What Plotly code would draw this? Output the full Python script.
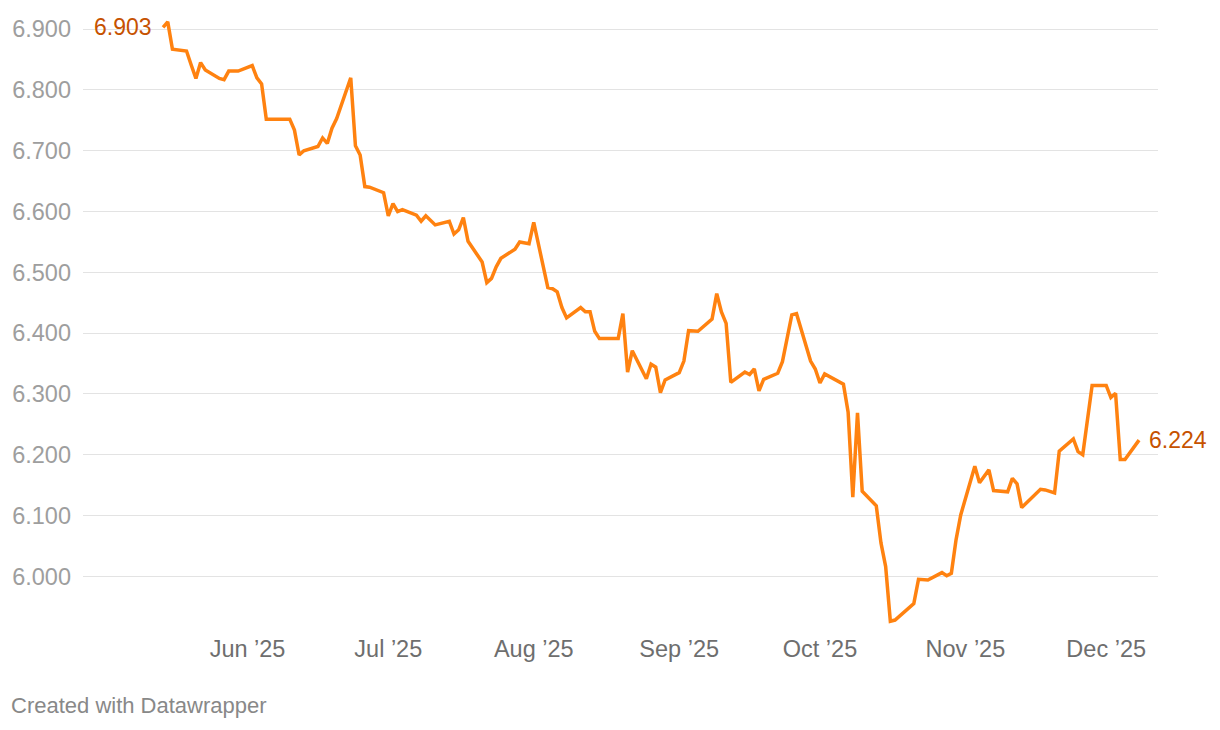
import plotly.graph_objects as go

dates = [
    "2025-05-14", "2025-05-15", "2025-05-16", "2025-05-19", "2025-05-20", "2025-05-21",
    "2025-05-22", "2025-05-23", "2025-05-26", "2025-05-27", "2025-05-28", "2025-05-30",
    "2025-06-02", "2025-06-03", "2025-06-04", "2025-06-05", "2025-06-06", "2025-06-09",
    "2025-06-10", "2025-06-11", "2025-06-12", "2025-06-13", "2025-06-16", "2025-06-17",
    "2025-06-18", "2025-06-19", "2025-06-20", "2025-06-23", "2025-06-24", "2025-06-25",
    "2025-06-26", "2025-06-27", "2025-06-30", "2025-07-01", "2025-07-02", "2025-07-03",
    "2025-07-04", "2025-07-07", "2025-07-08", "2025-07-09", "2025-07-11", "2025-07-14",
    "2025-07-15", "2025-07-16", "2025-07-17", "2025-07-18", "2025-07-21", "2025-07-22",
    "2025-07-23", "2025-07-24", "2025-07-25", "2025-07-28", "2025-07-29", "2025-07-31",
    "2025-08-01", "2025-08-04", "2025-08-05", "2025-08-06", "2025-08-07", "2025-08-08",
    "2025-08-11", "2025-08-12", "2025-08-13", "2025-08-14", "2025-08-15", "2025-08-18",
    "2025-08-19", "2025-08-20", "2025-08-21", "2025-08-22", "2025-08-25", "2025-08-26",
    "2025-08-27", "2025-08-28", "2025-08-29", "2025-09-01", "2025-09-02", "2025-09-03",
    "2025-09-05", "2025-09-08", "2025-09-09", "2025-09-10", "2025-09-11", "2025-09-12",
    "2025-09-15", "2025-09-16", "2025-09-17", "2025-09-18", "2025-09-19", "2025-09-22",
    "2025-09-23", "2025-09-25", "2025-09-26", "2025-09-29", "2025-09-30", "2025-10-01",
    "2025-10-02", "2025-10-06", "2025-10-07", "2025-10-08", "2025-10-09", "2025-10-10",
    "2025-10-13", "2025-10-14", "2025-10-15", "2025-10-16", "2025-10-17", "2025-10-21",
    "2025-10-22", "2025-10-24", "2025-10-27", "2025-10-28", "2025-10-29", "2025-10-30",
    "2025-10-31", "2025-11-03", "2025-11-04", "2025-11-06", "2025-11-07", "2025-11-10",
    "2025-11-11", "2025-11-12", "2025-11-13", "2025-11-17", "2025-11-18", "2025-11-20",
    "2025-11-21", "2025-11-24", "2025-11-25", "2025-11-26", "2025-11-28", "2025-12-01",
    "2025-12-02", "2025-12-03", "2025-12-04", "2025-12-05", "2025-12-08",
]

values = [
    6.903, 6.912, 6.867, 6.864, 6.841, 6.819,
    6.845, 6.833, 6.819, 6.817, 6.831, 6.831,
    6.840, 6.820, 6.810, 6.752, 6.752, 6.752,
    6.752, 6.734, 6.693, 6.700, 6.707, 6.721,
    6.712, 6.737, 6.753, 6.820, 6.708, 6.693,
    6.641, 6.640, 6.631, 6.593, 6.613, 6.600,
    6.603, 6.594, 6.584, 6.593, 6.578, 6.584,
    6.563, 6.570, 6.590, 6.551, 6.517, 6.483,
    6.490, 6.509, 6.523, 6.538, 6.550, 6.547,
    6.582, 6.475, 6.473, 6.468, 6.442, 6.425,
    6.442, 6.435, 6.435, 6.403, 6.391, 6.391,
    6.391, 6.432, 6.336, 6.371, 6.325, 6.349,
    6.344, 6.302, 6.323, 6.335, 6.354, 6.404,
    6.403, 6.423, 6.465, 6.435, 6.416, 6.319,
    6.336, 6.332, 6.341, 6.305, 6.324, 6.334,
    6.353, 6.430, 6.432, 6.354, 6.341, 6.318,
    6.333, 6.316, 6.270, 6.130, 6.269, 6.140,
    6.116, 6.055, 6.016, 5.926, 5.928, 5.955,
    5.995, 5.994, 6.006, 6.001, 6.005, 6.060,
    6.101, 6.181, 6.154, 6.175, 6.141, 6.139,
    6.161, 6.152, 6.113, 6.143, 6.142, 6.137,
    6.206, 6.226, 6.205, 6.200, 6.314, 6.314,
    6.294, 6.301, 6.192, 6.192, 6.224,
]

month_ticks = ["2025-06-01", "2025-07-01", "2025-08-01", "2025-09-01",
               "2025-10-01", "2025-11-01", "2025-12-01"]
month_labels = ["Jun \u201925", "Jul \u201925", "Aug \u201925", "Sep \u201925",
                "Oct \u201925", "Nov \u201925", "Dec \u201925"]
y_ticks = [6.0, 6.1, 6.2, 6.3, 6.4, 6.5, 6.6, 6.7, 6.8, 6.9]
y_labels = ["6.000", "6.100", "6.200", "6.300", "6.400", "6.500",
            "6.600", "6.700", "6.800", "6.900"]

FONT = "Liberation Sans, Arial, Helvetica, sans-serif"
LINE = "#ff8210"
LABEL = "#c65200"

fig = go.Figure()
fig.add_trace(go.Scatter(
    x=dates, y=values, mode="lines",
    line=dict(color=LINE, width=3.5),
    hoverinfo="skip", showlegend=False,
))

fig.add_annotation(x=dates[0], y=values[0], text=f"{values[0]:.3f}",
                   showarrow=False, xanchor="right", yanchor="middle",
                   xshift=-9, font=dict(family=FONT, size=23, color=LABEL))
fig.add_annotation(x=dates[-1], y=values[-1], text=f"{values[-1]:.3f}",
                   showarrow=False, xanchor="left", yanchor="middle",
                   xshift=8, font=dict(family=FONT, size=23, color=LABEL))
fig.add_annotation(xref="paper", yref="paper", x=-0.0693, y=-0.122,
                   text="Created with Datawrapper", showarrow=False,
                   xanchor="left", yanchor="middle",
                   font=dict(family=FONT, size=22, color="#888888"))

fig.update_layout(
    width=1220, height=730,
    margin=dict(l=83, r=62, t=17, b=99),
    paper_bgcolor="white", plot_bgcolor="white",
    font=dict(family=FONT),
    xaxis=dict(
        range=["2025-04-26 22:30", "2025-12-12 01:00"],
        tickvals=month_ticks, ticktext=month_labels,
        showgrid=False, zeroline=False, showline=False, ticks="",
        tickfont=dict(family=FONT, size=23.5, color="#6e6e6e"),
        ticklabelstandoff=1,
    ),
    yaxis=dict(
        range=[5.91, 6.92],
        tickvals=y_ticks, ticktext=y_labels,
        showgrid=True, gridcolor="#e3e3e3", gridwidth=1.4,
        zeroline=False, showline=False, ticks="",
        tickfont=dict(family=FONT, size=23.5, color="#9e9e9e"),
        ticklabelstandoff=11,
    ),
)

fig.write_html("out.html", config={"displayModeBar": False},
               post_script="document.body.style.margin='0';document.body.style.overflow='hidden';")
